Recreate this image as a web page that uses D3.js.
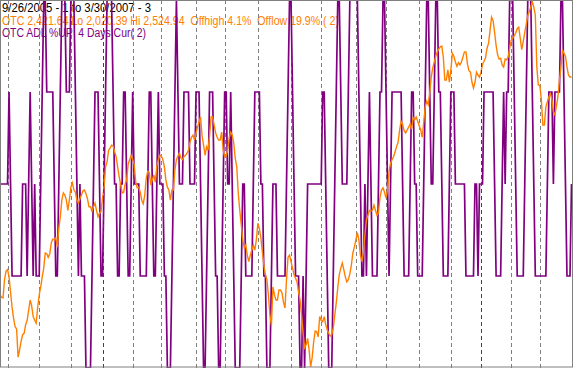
<!DOCTYPE html>
<html>
<head>
<meta charset="utf-8">
<script src="https://cdn.jsdelivr.net/npm/d3@7"></script>
<style>
    body { margin: 0; background: #fff; }
    svg { display: block; }
</style>
</head>
<body>
<div id="chart"></div>
<script>
// OTC composite daily close, 9/26/2005 .. 3/30/2007 (one value per trading day)
const otcClose = [
    2120, 2117, 2116, 2141, 2153, 2155, 2145, 2124, 2103, 2088,
    2076, 2073, 2034, 2044, 2056, 2065, 2067, 2079, 2085, 2099,
    2113, 2105, 2090, 2085, 2081, 2103, 2120, 2131, 2145, 2157,
    2178, 2177, 2172, 2177, 2192, 2197, 2196, 2199, 2186, 2212,
    2228, 2251, 2261, 2258, 2251, 2237, 2251, 2269, 2275, 2265,
    2262, 2251, 2247, 2253, 2258, 2264, 2265, 2260, 2253, 2242,
    2242, 2236, 2242, 2247, 2237, 2228, 2233, 2235, 2254, 2268,
    2297, 2304, 2320, 2323, 2327, 2326, 2318, 2311, 2297, 2284,
    2272, 2261, 2262, 2273, 2279, 2301, 2307, 2313, 2307, 2300,
    2276, 2268, 2269, 2262, 2251, 2246, 2258, 2282, 2291, 2289,
    2272, 2279, 2286, 2276, 2298, 2307, 2313, 2312, 2307, 2297,
    2279, 2269, 2265, 2251, 2265, 2265, 2293, 2307, 2312, 2316,
    2309, 2307, 2311, 2313, 2316, 2320, 2331, 2338, 2341, 2334,
    2344, 2352, 2359, 2366, 2340, 2327, 2313, 2325, 2320, 2341,
    2366, 2366, 2355, 2344, 2338, 2334, 2334, 2345, 2320, 2311,
    2312, 2320, 2337, 2345, 2341, 2330, 2309, 2297, 2261, 2237,
    2217, 2196, 2185, 2189, 2175, 2166, 2175, 2182, 2189, 2182,
    2196, 2219, 2212, 2199, 2179, 2161, 2148, 2141, 2120, 2092,
    2078, 2131, 2120, 2113, 2113, 2127, 2127, 2123, 2110, 2102,
    2141, 2172, 2175, 2166, 2157, 2148, 2143, 2138, 2124, 2113,
    2092, 2067, 2047, 2051, 2060, 2044, 2020.39, 2033, 2055, 2070,
    2069, 2062, 2090, 2085, 2083, 2090, 2079, 2072, 2067, 2063,
    2065, 2074, 2092, 2109, 2130, 2148, 2157, 2164, 2155, 2145,
    2138, 2141, 2149, 2161, 2178, 2186, 2196, 2206, 2196, 2175,
    2166, 2179, 2203, 2224, 2230, 2237, 2236, 2237, 2244, 2237,
    2230, 2234, 2255, 2265, 2268, 2262, 2254, 2265, 2290, 2302,
    2307, 2311, 2318, 2325, 2331, 2348, 2360, 2356, 2347, 2344,
    2348, 2352, 2356, 2349, 2365, 2362, 2366, 2360, 2354, 2348,
    2338, 2359, 2380, 2388, 2383, 2400, 2421, 2434, 2442, 2450,
    2456, 2460, 2463, 2464, 2448, 2417, 2417, 2431, 2414, 2431,
    2454, 2450, 2442, 2436, 2441, 2438, 2442, 2449, 2456, 2456,
    2439, 2430, 2428, 2414, 2406, 2414, 2428, 2424, 2421, 2428,
    2439, 2443, 2448, 2461, 2468, 2486, 2504, 2499, 2483, 2465,
    2452, 2446, 2447, 2438, 2435, 2446, 2445, 2449, 2461, 2472,
    2475, 2478, 2482, 2488, 2490, 2475, 2459, 2470, 2483, 2494,
    2506, 2512, 2518, 2524.94, 2518, 2507, 2435, 2410, 2410, 2390,
    2355, 2355, 2380, 2387, 2394, 2398, 2390, 2373, 2369, 2381,
    2394, 2417, 2435, 2459, 2454, 2450, 2435, 2424, 2421, 2421.64
];

// OTC advance/decline line, percent of the last 4 days that were up
const adlPctUp = [
    50, 50, 50, 50, 50, 50, 75, 50, 25, 25,
    25, 25, 25, 25, 25, 50, 50, 50, 25, 50,
    75, 50, 25, 50, 25, 25, 25, 50, 75, 100,
    100, 75, 75, 75, 75, 75, 50, 25, 25, 50,
    75, 100, 100, 100, 75, 75, 75, 100, 100, 100,
    75, 50, 25, 50, 25, 25, 25, 0, 0, 0,
    0, 25, 50, 75, 75, 75, 50, 25, 25, 50,
    75, 100, 100, 100, 100, 75, 50, 50, 25, 25,
    50, 50, 75, 75, 50, 25, 25, 50, 75, 50,
    50, 50, 50, 25, 25, 25, 25, 25, 50, 75,
    75, 50, 25, 25, 50, 75, 50, 50, 50, 25,
    25, 0, 0, 0, 25, 50, 75, 100, 75, 50,
    50, 50, 75, 75, 75, 75, 50, 50, 50, 50,
    75, 75, 75, 50, 25, 0, 0, 25, 50, 75,
    75, 75, 50, 25, 25, 0, 0, 25, 50, 75,
    75, 50, 50, 75, 50, 25, 0, 0, 0, 0,
    25, 50, 50, 25, 25, 25, 25, 25, 50, 75,
    75, 75, 75, 50, 50, 25, 25, 0, 0, 0,
    25, 50, 50, 50, 25, 25, 25, 25, 25, 25,
    50, 75, 100, 100, 75, 50, 25, 25, 25, 0,
    0, 25, 0, 25, 50, 50, 50, 50, 50, 50,
    50, 50, 50, 50, 75, 75, 50, 25, 0, 0,
    0, 25, 50, 75, 100, 100, 75, 50, 50, 50,
    50, 75, 100, 100, 100, 100, 100, 100, 75, 50,
    25, 25, 50, 25, 50, 75, 50, 25, 25, 25,
    25, 50, 75, 75, 100, 100, 75, 50, 25, 50,
    75, 75, 75, 75, 75, 75, 75, 50, 25, 25,
    25, 25, 50, 75, 75, 50, 50, 25, 25, 25,
    25, 50, 75, 100, 100, 75, 50, 50, 75, 100,
    100, 75, 75, 50, 25, 25, 25, 25, 50, 75,
    75, 75, 50, 50, 50, 50, 50, 50, 50, 25,
    25, 25, 25, 25, 25, 50, 50, 25, 50, 50,
    50, 75, 75, 75, 75, 75, 75, 75, 50, 25,
    25, 25, 25, 50, 75, 50, 75, 75, 100, 100,
    100, 75, 50, 25, 25, 25, 25, 25, 50, 75,
    100, 100, 100, 75, 50, 25, 25, 25, 25, 25,
    25, 25, 25, 50, 75, 75, 75, 50, 75, 75,
    75, 75, 100, 100, 75, 50, 25, 25, 25, 50
];

// index of the first trading day of each month, and of each year
const monthStarts = [5, 26, 47, 68, 88, 107, 130, 149, 171, 193, 213, 236, 256, 278, 299, 319, 339, 358];
const yearStarts = [68, 319];

const otcLo = 2020.39;
const otcHi = 2524.94;

const headerText = [
    "9/26/2005 - 1 to 3/30/2007 - 3",
    "OTC 2,421.64 Lo 2,020.39 Hi 2,524.94  Offhigh 4.1%  Offlow 19.9% ( 2)",
    "OTC ADL %UP  4 Days Cur( 2)"
];

/**
 * Constructor for the OTC / ADL chart
 */
function OtcChart(){
    let self = this;
    self.init();
};

/**
 * Builds the svg and draws everything
 */
OtcChart.prototype.init = function(){
    let self = this;
    self.svgWidth = 573;
    self.svgHeight = 368;

    let divChart = d3.select("#chart");
    self.svg = divChart.append("svg")
        .attr("width", self.svgWidth)
        .attr("height", self.svgHeight);

    self.svg.append("rect")
        .attr("width", self.svgWidth)
        .attr("height", self.svgHeight)
        .attr("fill", "#ffffff");

    let x = d3.scaleLinear().domain([0, otcClose.length - 1]).range([0, 571.5]);
    let yOtc = d3.scaleLinear().domain([otcLo, otcHi]).range([367, 2]);
    let yPct = d3.scaleLinear().domain([0, 100]).range([368, 0]);

    //Header text, lines are drawn over it
    let textColors = ["#000000", "#ff8000", "#800080"];
    let textWidths = [149, 337, 144];
    let textBase = [12, 24.5, 37];
    self.svg.selectAll("text.header")
        .data(headerText)
        .join("text")
        .attr("class", "header")
        .attr("x", 2)
        .attr("y", (d, i) => textBase[i])
        .attr("textLength", (d, i) => textWidths[i])
        .attr("lengthAdjust", "spacingAndGlyphs")
        .style("white-space", "pre")
        .style("font-family", "Arial, 'Liberation Sans', sans-serif")
        .style("font-size", "12px")
        .attr("fill", (d, i) => textColors[i])
        .text(d => d);

    //Month grid lines
    let gridX = d => Math.round(x(d)) + 0.5;
    self.svg.selectAll("line.month")
        .data(monthStarts.filter(d => !yearStarts.includes(d)))
        .join("line")
        .attr("class", "month")
        .attr("x1", gridX)
        .attr("x2", gridX)
        .attr("y1", 0)
        .attr("y2", self.svgHeight)
        .attr("stroke", "#808080")
        .attr("stroke-width", 1)
        .attr("stroke-dasharray", "4,3");

    //ADL %UP line
    let pctLine = d3.line()
        .x((d, i) => x(i))
        .y(d => yPct(d));
    self.svg.append("path")
        .datum(adlPctUp)
        .attr("d", pctLine)
        .attr("fill", "none")
        .attr("stroke", "#800080")
        .attr("stroke-width", 1.7)
        .attr("stroke-linejoin", "miter")
        .attr("stroke-miterlimit", 2);

    //OTC price line
    let otcLine = d3.line()
        .x((d, i) => x(i))
        .y(d => yOtc(d));
    self.svg.append("path")
        .datum(otcClose)
        .attr("d", otcLine)
        .attr("fill", "none")
        .attr("stroke", "#ff8000")
        .attr("stroke-width", 1.4);

    //Year grid lines on top
    self.svg.selectAll("line.year")
        .data(yearStarts)
        .join("line")
        .attr("class", "year")
        .attr("x1", gridX)
        .attr("x2", gridX)
        .attr("y1", 0)
        .attr("y2", self.svgHeight)
        .attr("stroke", "#e00000")
        .attr("stroke-width", 1)
        .attr("stroke-dasharray", "4,3");

    //Frame
    self.svg.append("rect")
        .attr("x", 0.5)
        .attr("y", 0.5)
        .attr("width", 572)
        .attr("height", 366.5)
        .attr("fill", "none")
        .attr("stroke", "#808080")
        .attr("stroke-width", 1);
}

let chart = new OtcChart();
</script>
</body>
</html>
